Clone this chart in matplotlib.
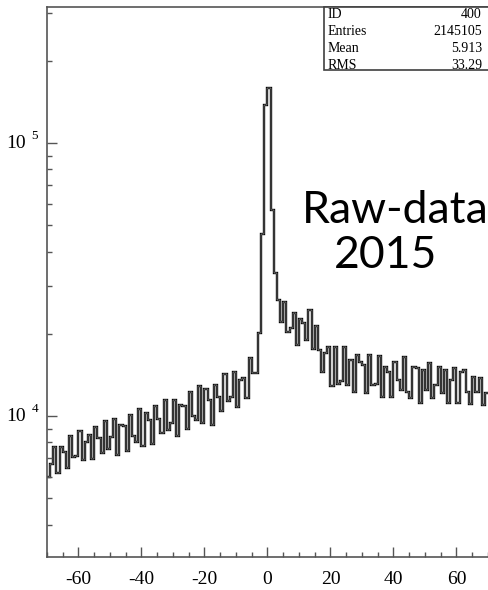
import matplotlib
matplotlib.use('Agg')
import matplotlib.pyplot as plt
import numpy as np
from matplotlib.patches import Rectangle
from matplotlib.ticker import LogLocator, MultipleLocator, NullFormatter

# --------------------------------------------------------------------------------------------------
# data (1 unit bins, -70 .. 70)

bin_edges = np.arange(-70, 71, 1)

# bins -70 .. -1
counts_neg = [6000, 6670, 7700, 6180, 7700, 7380, 6450, 8450, 7080, 7140,
              8810, 6900, 8030, 8520, 6960, 9110, 8310, 7320, 9590, 7570,
              8380, 9750, 7200, 9270, 9190, 7450, 10090, 8450, 8030, 10610,
              7760, 10260, 9670, 7900, 10880, 9750, 8660, 11440, 8890, 9430,
              11440, 8450, 10970, 10880, 8960, 12240, 10000, 9670, 12880, 9430,
              12560, 11440, 9270, 12990, 11740, 10430, 14260, 11350, 11740, 14490,
              10790, 13550, 13780, 11640, 16310, 14370, 14370, 20140, 46400, 137800]

# bins 0 .. 69
counts_pos = [159000, 56840, 33400, 26600, 22100, 26160, 20310, 21000, 23840, 18200,
              22650, 21920, 18970, 24450, 17600, 21370, 17450, 14490, 17010, 17890,
              12880, 17890, 13100, 13430, 17890, 12990, 16030, 12240, 16720, 15770,
              15380, 12140, 16720, 12990, 13100, 16590, 11740, 15120, 14490, 11740,
              15770, 13550, 12450, 16450, 12240, 11640, 15120, 15000, 11160, 14740,
              12450, 15640, 11640, 12990, 15120, 12140, 14740, 11160, 13550, 15000,
              11160, 14490, 14740, 12240, 11060, 13890, 12240, 13780, 10970, 12140]

counts = np.array(counts_neg + counts_pos, dtype=float)

x_ticks = [-60, -40, -20, 0, 20, 40, 60]
y_decades = [1e4, 1e5]
y_decade_exp = ['4', '5']

stat_labels = ['ID', 'Entries', 'Mean', 'RMS']
stat_values = ['400', '2145105', '5.913', '33.29']

label_text = ['Raw-data', '2015']

# --------------------------------------------------------------------------------------------------

plt.rcParams['axes.unicode_minus'] = False
serif = ['Liberation Serif', 'DejaVu Serif']
frame_col = '#555555'

W, H = 489.0, 590.0
fig = plt.figure(figsize=(W/100, H/100), dpi=100)
ax = fig.add_axes([47/W, 33/H, 441/W, 550/H])

# outline drawn twice to get the doubled ROOT line look
ax.stairs(counts, bin_edges, baseline=None, color='black', lw=1.7)
ax.stairs(counts, bin_edges, baseline=None, color='#d8d8d8', lw=0.35)

ax.set_yscale('log')
ax.set_xlim(-70, 70)
ax.set_ylim(3045, 3.15e5)

# x axis
ax.set_xticks(x_ticks)
ax.set_xticklabels([str(t) for t in x_ticks], fontfamily=serif, fontsize=14)
ax.xaxis.set_minor_locator(MultipleLocator(5))

# y axis, labels drawn by hand in ROOT style "10 ^n"
ax.yaxis.set_major_locator(LogLocator(base=10))
ax.yaxis.set_minor_locator(LogLocator(base=10, subs=np.arange(2, 10)))
ax.yaxis.set_major_formatter(NullFormatter())
ax.yaxis.set_minor_formatter(NullFormatter())
for val, ex in zip(y_decades, y_decade_exp):
    ax.annotate('10', xy=(0, val), xycoords=('axes fraction', 'data'),
                xytext=(-15, 0), textcoords='offset points',
                ha='right', va='center', fontfamily=serif, fontsize=14)
    ax.annotate(ex, xy=(0, val), xycoords=('axes fraction', 'data'),
                xytext=(-11, 5), textcoords='offset points',
                ha='left', va='center', fontfamily=serif, fontsize=9.5)

ax.tick_params(which='both', direction='in', color=frame_col, width=1,
               top=False, right=False)
ax.tick_params(which='major', length=7)
ax.tick_params(which='minor', length=3.5)
ax.tick_params(axis='x', which='major', pad=10)

for side in ['left', 'bottom', 'top']:
    ax.spines[side].set_color(frame_col)
    ax.spines[side].set_linewidth(1.2)
ax.spines['right'].set_visible(False)

# stats box
fig.add_artist(Rectangle((324/W, 1 - 70/H), (W - 324)/W, 63/H, transform=fig.transFigure,
                         facecolor='white', edgecolor='#404040', lw=1.2, zorder=2))
for i, (lab, val) in enumerate(zip(stat_labels, stat_values)):
    yy = 1 - (15 + 16.8*i)/H
    fig.text(328/W, yy, lab, ha='left', va='center', fontfamily=serif, fontsize=10, zorder=3)
    fig.text(482/W, yy, val, ha='right', va='center', fontfamily=serif, fontsize=10, zorder=3)

# big label
fig.text(395/W, 1 - 223/H, label_text[0], ha='center', va='baseline',
         fontfamily='Lato', fontsize=32)
fig.text(386/W, 1 - 268/H, label_text[1], ha='center', va='baseline',
         fontfamily='Lato', fontsize=32)

fig.savefig('out.png', dpi=100)
